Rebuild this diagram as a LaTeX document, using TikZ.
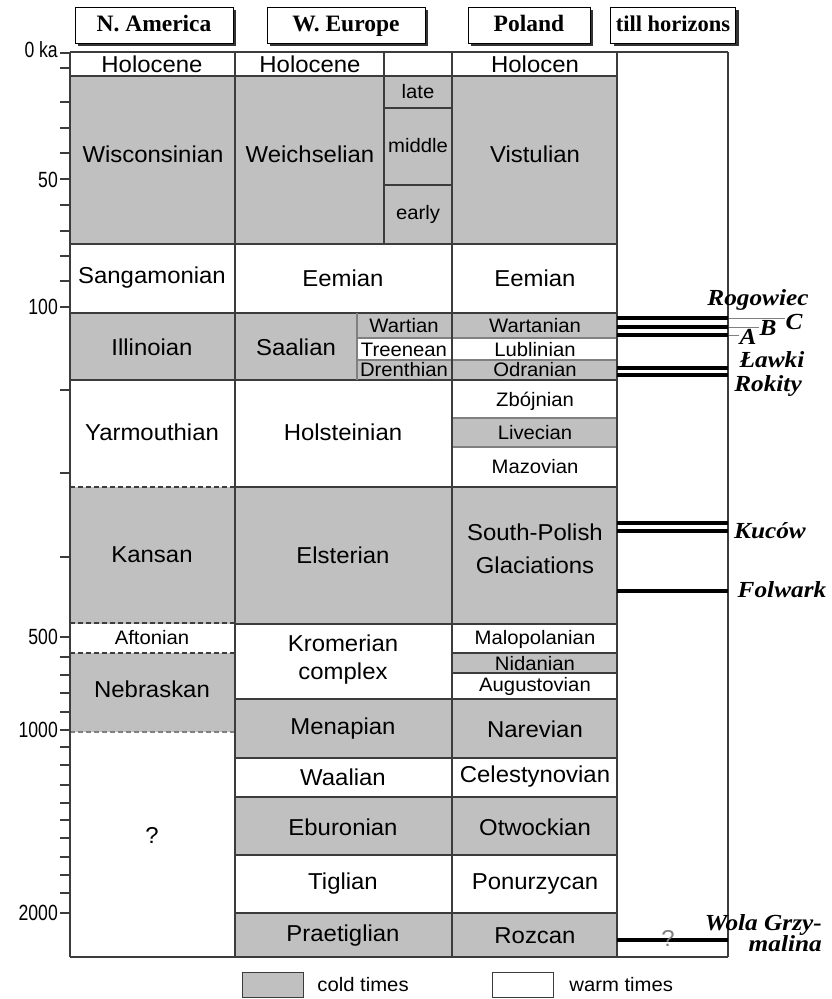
\documentclass[tikz,border=0pt]{standalone}
\usepackage{fontspec}
\usetikzlibrary{shadows,positioning}
\newfontfamily\cellfont{Liberation Sans}[FakeStretch=1.04]
\newfontfamily\axisfont{Liberation Sans}[FakeStretch=0.8]
\newfontfamily\headfont{Liberation Serif}[FakeStretch=1.0]
\newfontfamily\tillfont{Liberation Serif}[FakeStretch=1.1]
\definecolor{coldgray}{RGB}{192,192,192}
\definecolor{gridgray}{RGB}{60,60,60}

\begin{document}
\begin{tikzpicture}[x=1pt,y=-1pt,
	grid/.style={draw=gridgray,line width=1.8pt},
	subgrid/.style={draw=gray,line width=1.4pt},
	bound/.style={draw=gridgray,line width=1.8pt,dash pattern=on 5pt off 3pt},
	stage/.style={font=\cellfont\fontsize{23}{28}\selectfont,inner sep=0pt,align=center},
	small/.style={font=\cellfont\fontsize{19.5}{20}\selectfont,inner sep=0pt},
	axis/.style={font=\axisfont\fontsize{22}{22}\selectfont,anchor=east,inner sep=0pt},
	head/.style={draw=black,fill=white,line width=1pt,minimum height=36pt,inner sep=0pt,
		text height=16pt,text depth=4pt,
		font=\headfont\bfseries\fontsize{23.5}{24}\selectfont,
		drop shadow={shadow xshift=3pt,shadow yshift=-3pt,fill=black!80,opacity=1}},
	till/.style={draw=black,line width=3.5pt},
	horizon/.style={font=\tillfont\bfseries\itshape\fontsize{23}{21}\selectfont,inner sep=0pt,
		text height=14pt,text depth=0pt},
	pointer/.style={draw=gray,line width=1pt},
	legbox/.style={draw=gridgray,line width=1.4pt,minimum width=61pt,minimum height=25pt,inner sep=0pt}]

	\useasboundingbox (0,0) rectangle (832,999);

	% column headers
	\node[head,minimum width=158pt] (naHead)   at (154,25) {N. America};
	\node[head,minimum width=158pt] (weHead)   at (346,25) {W. Europe};
	\node[head,minimum width=122pt] (plHead)   at (529,25) {Poland};
	\node[head,minimum width=125pt,font=\headfont\bfseries\fontsize{22.5}{24}\selectfont] (tillHead) at (673,25) {till horizons};

	% cold periods
	\fill[coldgray] (70,76) rectangle (617,244);
	\fill[coldgray] (70,313) rectangle (617,380);
	\fill[white]    (357,338) rectangle (617,360);
	\fill[coldgray] (452,418) rectangle (617,447);
	\fill[coldgray] (70,487) rectangle (617,624);
	\fill[coldgray] (70,653) rectangle (235,732);
	\fill[coldgray] (452,653) rectangle (617,673);
	\fill[coldgray] (235,699) rectangle (617,758);
	\fill[coldgray] (235,797) rectangle (617,855);
	\fill[coldgray] (235,913) rectangle (617,957);

	% rows
	\draw[grid] (70,52) -- (728,52);
	\draw[grid] (70,76) -- (617,76);
	\draw[grid] (384,108) -- (452,108);
	\draw[grid] (384,185) -- (452,185);
	\draw[grid] (70,244) -- (617,244);
	\draw[grid] (70,313) -- (617,313);
	\draw[subgrid] (357,338) -- (617,338);
	\draw[subgrid] (357,360) -- (617,360);
	\draw[grid] (70,380) -- (617,380);
	\draw[subgrid] (452,418) -- (617,418);
	\draw[subgrid] (452,447) -- (617,447);
	\draw[bound] (70,487) -- (235,487);
	\draw[grid] (235,487) -- (617,487);
	\draw[bound] (70,623) -- (235,623);
	\draw[grid] (235,624) -- (617,624);
	\draw[bound] (70,653) -- (235,653);
	\draw[grid] (452,653) -- (617,653);
	\draw[grid] (452,673) -- (617,673);
	\draw[grid] (235,699) -- (617,699);
	\draw[bound,draw=gray] (70,732) -- (235,732);
	\draw[grid] (235,758) -- (617,758);
	\draw[grid] (235,797) -- (617,797);
	\draw[grid] (235,855) -- (617,855);
	\draw[grid] (235,913) -- (617,913);
	\draw[grid] (70,957) -- (728,957);

	% columns
	\draw[grid] (70,52) -- (70,957);
	\draw[grid] (235,52) -- (235,957);
	\draw[grid] (384,52) -- (384,244);
	\draw[subgrid] (357,313) -- (357,380);
	\draw[grid] (452,52) -- (452,957);
	\draw[grid] (617,52) -- (617,957);
	\draw[grid] (728,52) -- (728,957);

	% time axis
	\foreach \t in {53,68,102,128,153,179,205,231,256,281,307,390,473,557,637,657,675,693,712,730,747,765,785,803,820,838,857,875,893,913}
		\draw[grid,line width=1.5pt] (60,\t) -- (70,\t);
	\node[axis] (ka0)   at (58,50)  {0 ka};
	\node[axis] (ka50)  at (58,180) {50};
	\node[axis] (ka100) at (58,307) {100};
	\node[axis] (ka500) at (58,637) {500};
	\node[axis] (ka1k)  at (58,730) {1000};
	\node[axis] (ka2k)  at (58,913) {2000};

	% stages
	\node[stage] (naHol) at (152,64) {Holocene};
	\node[stage] (weHol) at (310,64) {Holocene};
	\node[stage] (plHol) at (535,64) {Holocen};
	\node[stage] (wisc)  at (153,154) {Wisconsinian};
	\node[stage] (weich) at (310,154) {Weichselian};
	\node[small] (late)  at (418,92)  {late};
	\node[small] (middle) at (418,146) {middle};
	\node[small] (early) at (418,214) {early};
	\node[stage] (vist)  at (535,154) {Vistulian};
	\node[stage] (sang)  at (152,278) {Sangamonian};
	\node[stage] (eemWE) at (343,278) {Eemian};
	\node[stage] (eemPL) at (535,278) {Eemian};
	\node[stage] (illi)  at (152,347) {Illinoian};
	\node[stage] (saal)  at (296,347) {Saalian};
	\node[small] (wart)  at (404,326) {Wartian};
	\node[small] (treen) at (404,350) {Treenean};
	\node[small] (drent) at (404,370) {Drenthian};
	\node[small] (warta) at (535,326) {Wartanian};
	\node[small] (lubl)  at (535,350) {Lublinian};
	\node[small] (odra)  at (535,370) {Odranian};
	\node[stage] (yarm)  at (152,432) {Yarmouthian};
	\node[stage] (holst) at (343,432) {Holsteinian};
	\node[small] (zboj)  at (535,401) {Zbójnian};
	\node[small] (live)  at (535,433) {Livecian};
	\node[small] (mazo)  at (535,467) {Mazovian};
	\node[stage] (kans)  at (152,555) {Kansan};
	\node[stage] (elst)  at (343,555) {Elsterian};
	\node[stage] (spol)  at (535,549) {South-Polish\\[5pt]Glaciations};
	\node[small] (afto)  at (152,638) {Aftonian};
	\node[stage] (nebr)  at (152,689) {Nebraskan};
	\node[stage] (krom)  at (343,660) {Kromerian\\complex};
	\node[small] (malo)  at (535,639) {Malopolanian};
	\node[small] (nida)  at (535,664) {Nidanian};
	\node[small] (augu)  at (535,686) {Augustovian};
	\node[stage] (mena)  at (343,729) {Menapian};
	\node[stage] (nare)  at (535,729) {Narevian};
	\node[stage] (quest) at (152,835) {?};
	\node[stage] (waal)  at (343,777) {Waalian};
	\node[stage] (cele)  at (535,777) {Celestynovian};
	\node[stage] (ebur)  at (343,827) {Eburonian};
	\node[stage] (otwo)  at (535,827) {Otwockian};
	\node[stage] (tigl)  at (343,884) {Tiglian};
	\node[stage] (ponu)  at (535,884) {Ponurzycan};
	\node[stage] (prae)  at (343,936) {Praetiglian};
	\node[stage] (rozc)  at (535,936) {Rozcan};

	% till horizons
	\draw[till] (617,318) -- (728,318);
	\draw[till] (617,327) -- (728,327);
	\draw[till] (617,335) -- (728,335);
	\draw[till] (617,368) -- (728,368);
	\draw[till] (617,375) -- (728,375);
	\draw[till] (617,523) -- (728,523);
	\draw[till] (617,531) -- (728,531);
	\draw[till] (617,591) -- (728,591);
	\draw[till] (617,940) -- (728,940);
	\node[stage,text=gray] (qWola) at (668,938) {?};

	\coordinate (tC) at (729,318);
	\coordinate (tB) at (729,327);
	\coordinate (tA) at (729,335);
	\node[horizon] (rogo) at (758,298) {Rogowiec};
	\node[horizon] (labC) at (794,322) {C};
	\node[horizon] (labB) at (768,328) {B};
	\node[horizon] (labA) at (748,337) {A};
	\draw[pointer] (tC) -- (tC -| labC.west);
	\draw[pointer] (tB) -- (tB -| labB.west);
	\draw[pointer] (tA) -- (tA -| labA.west);
	\node[horizon] (lawk) at (772,360) {Ławki};
	\node[horizon] (roki) at (768,384) {Rokity};
	\node[horizon] (kuco) at (770,531) {Kuców};
	\node[horizon] (folw) at (782,590) {Folwark};
	\node[horizon,align=right,anchor=east,text height=,text depth=] (wola) at (822,933) {Wola Grzy-\\malina};

	% legend
	\node[legbox,fill=coldgray] (coldBox) at (273,985) {};
	\node[small,right=13pt of coldBox] (coldTxt) {cold times};
	\node[legbox,fill=white] (warmBox) at (523,985) {};
	\node[small,right=15pt of warmBox] (warmTxt) {warm times};
\end{tikzpicture}
\end{document}
